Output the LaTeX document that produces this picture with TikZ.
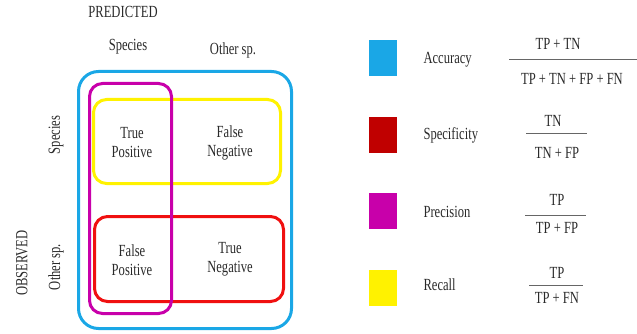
\documentclass[tikz,border=0pt]{standalone}
\usepackage{fontspec}
\setmainfont{Liberation Serif}[FakeStretch=0.74]
\usepackage{tikz}
\usetikzlibrary{positioning}

\definecolor{accblue}{HTML}{1AA7E6}
\definecolor{specred}{HTML}{C00000}
\definecolor{boxred}{HTML}{F01010}
\definecolor{precmag}{HTML}{C800AA}
\definecolor{recyel}{HTML}{FFF200}
\definecolor{txt}{HTML}{2A2A2A}

\begin{document}
\begin{tikzpicture}[x=1pt, y=-1pt,
    every node/.style = {text=txt, font=\fontsize{17}{19}\selectfont},
    zone/.style = {draw=#1, line width=3pt, rounded corners=13pt, inner sep=0pt},
    swatch/.style = {fill=#1, minimum width=28pt, minimum height=36pt, inner sep=0pt},
    cell/.style = {align=center},
    fracbar/.style = {draw=black!60, line width=0.8pt}]

    \useasboundingbox (0,0) rectangle (637,334);

    % headers
    \node (pred) at (123,12) {PREDICTED};
    \node (pspec) at (128,47) {Species};
    \node (pother) at (233,50) {Other sp.};
    \node[rotate=90] (ospec) at (56,135) {Species};
    \node[rotate=90] (oother) at (56,267) {Other sp.};
    \node[rotate=90] (obs) at (22,263) {OBSERVED};

    % zones
    \node[zone=accblue, rounded corners=20pt, minimum width=213pt, minimum height=257pt] (acc) at (185,200) {};
    \node[zone=recyel, minimum width=187pt, minimum height=84pt] (rec) at (187,141.5) {};
    \node[zone=boxred, minimum width=189pt, minimum height=85pt] (spec) at (189,259) {};
    \node[zone=precmag, minimum width=82pt, minimum height=230pt] (prec) at (130.5,198.5) {};

    % cells
    \node[cell] (tp) at (132,143) {True\\Positive};
    \node[cell] (fn) at (230,143) {False\\Negative};
    \node[cell] (fp) at (132,260) {False\\Positive};
    \node[cell] (tn) at (230,259) {True\\Negative};

    % legend
    \node[swatch=accblue] (sacc) at (383,58) {};
    \node[swatch=specred] (sspec) at (383,135) {};
    \node[swatch=precmag] (sprec) at (383,211) {};
    \node[swatch=recyel] (srec) at (383,288) {};

    \node[anchor=west] (lacc) at (420,60) {Accuracy};
    \node[anchor=west] (lspec) at (420,135) {Specificity};
    \node[anchor=west] (lprec) at (420,212) {Precision};
    \node[anchor=west] (lrec) at (420,285) {Recall};

    % formulas
    \node (nacc) at (558,44) {TP + TN};
    \node (dacc) at (572,79) {TP + TN + FP + FN};
    \coordinate (bacc1) at (509,59);
    \coordinate (bacc2) at (637,59);
    \draw[fracbar] (bacc1) -- (bacc2);

    \node (nspec) at (553,121) {TN};
    \node (dspec) at (557,153) {TN + FP};
    \coordinate (bspec1) at (526,133);
    \coordinate (bspec2) at (587,133);
    \draw[fracbar] (bspec1) -- (bspec2);

    \node (nprec) at (557,200) {TP};
    \node (dprec) at (557,228) {TP + FP};
    \coordinate (bprec1) at (525,215);
    \coordinate (bprec2) at (586,215);
    \draw[fracbar] (bprec1) -- (bprec2);

    \node (nrec) at (557,273) {TP};
    \node (drec) at (557,298) {TP + FN};
    \coordinate (brec1) at (529,285);
    \coordinate (brec2) at (583,285);
    \draw[fracbar] (brec1) -- (brec2);

\end{tikzpicture}
\end{document}
